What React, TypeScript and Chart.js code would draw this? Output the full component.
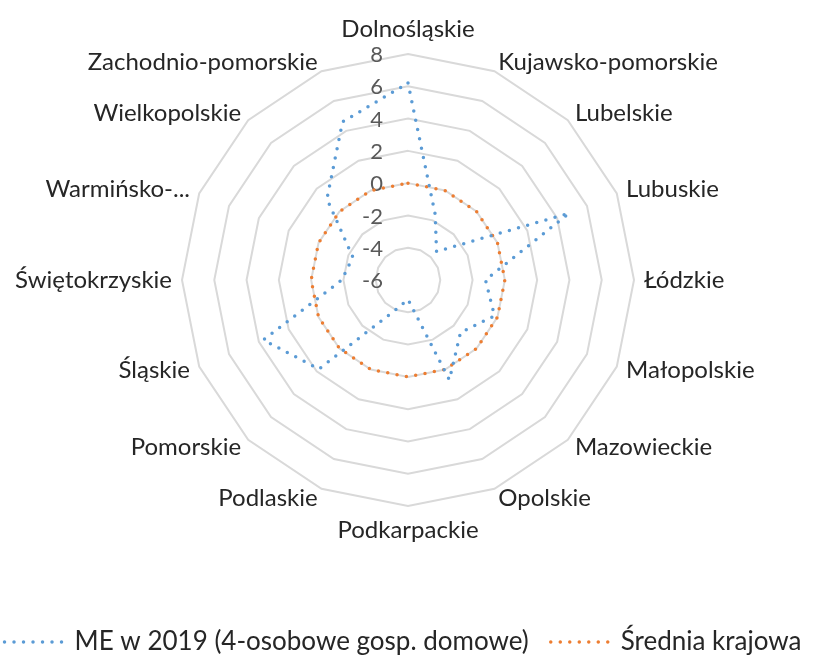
import React, { useEffect, useRef } from "react";
import { Chart, registerables } from "chart.js";

Chart.register(...registerables);

const categories: string[] = [
  "Dolnośląskie",
  "Kujawsko-pomorskie",
  "Lubelskie",
  "Lubuskie",
  "Łódzkie",
  "Małopolskie",
  "Mazowieckie",
  "Opolskie",
  "Podkarpackie",
  "Podlaskie",
  "Pomorskie",
  "Śląskie",
  "Świętokrzyskie",
  "Warmińsko-...",
  "Wielkopolskie",
  "Zachodnio-pomorskie",
];

const meValues: number[] = [6.2, -1.6, -3.5, 4.8, -1.2, -0.2, -1.4, 0.7, -4.8, -4.0, 1.8, 3.7, -1.9, -2.3, 1.1, 4.6];
const avgValues: number[] = [0, 0, 0, 0, 0, 0, 0, 0, 0, 0, 0, 0, 0, 0, 0, 0];

const seriesNames: string[] = ["ME w 2019 (4-osobowe gosp. domowe)", "Średnia krajowa"];

const axisMin = -6;
const axisMax = 8;
const axisStep = 2;

const FONT = "Lato";
const LABEL_SIZE = 24;
const LABEL_PAD = 10;

// value-axis tick labels, placed left of the vertical axis (as in Excel)
const tickLabelPlugin = {
  id: "tickLabelsLeft",
  beforeDatasetsDraw(chart: any) {
    const scale = chart.scales.r;
    const ctx = chart.ctx;
    ctx.save();
    ctx.font = `22px ${FONT}`;
    ctx.fillStyle = "#595959";
    ctx.textAlign = "right";
    ctx.textBaseline = "middle";
    scale.ticks.forEach((t: any) => {
      const d = scale.getDistanceFromCenterForValue(t.value);
      ctx.fillText(String(t.value), scale.xCenter - 25, scale.yCenter - d + 1);
    });
    ctx.restore();
  },
};

// category labels positioned from the radial scale geometry (Excel-like alignment)
const pointLabelPlugin = {
  id: "pointLabelsExcel",
  afterDraw(chart: any) {
    const scale = chart.scales.r;
    const ctx = chart.ctx;
    const labels: string[] = chart.data.labels;
    ctx.save();
    ctx.font = `${LABEL_SIZE}px ${FONT}`;
    ctx.fillStyle = "#262626";
    const lh = LABEL_SIZE * 1.2;
    labels.forEach((lab, i) => {
      const ang = scale.getIndexAngle(i);
      const deg = Math.round((ang * 180) / Math.PI) % 360;
      const p = scale.getPointPosition(i, scale.drawingArea + LABEL_PAD);
      let align: CanvasTextAlign = "center";
      if (deg !== 0 && deg !== 180) align = deg < 180 ? "left" : "right";
      let y = p.y;
      if (deg === 0) y = p.y - lh / 2;
      else if (deg === 180) y = p.y + lh / 2;
      ctx.textAlign = align;
      ctx.textBaseline = "middle";
      ctx.fillText(lab, p.x, y);
    });
    ctx.restore();
  },
};

export default function App() {
  const ref = useRef<HTMLCanvasElement | null>(null);
  useEffect(() => {
    if (!ref.current) return;
    const chart = new Chart(ref.current, {
      type: "radar",
      data: {
        labels: categories,
        datasets: [
          {
            label: seriesNames[0],
            data: meValues,
            borderColor: "#5B9BD5",
            backgroundColor: "rgba(0,0,0,0)",
            borderWidth: 3.5,
            borderDash: [0, 9.5],
            borderCapStyle: "round",
            pointRadius: 0,
            fill: false,
          },
          {
            label: seriesNames[1],
            data: avgValues,
            borderColor: "#ED7D31",
            backgroundColor: "rgba(0,0,0,0)",
            borderWidth: 3.5,
            borderDash: [0, 9.5],
            borderCapStyle: "round",
            pointRadius: 0,
            fill: false,
          },
        ],
      },
      options: {
        animation: false,
        responsive: false,
        maintainAspectRatio: false,
        layout: { padding: { top: 54, bottom: -8, left: -20, right: -9 } },
        plugins: {
          tooltip: { enabled: false },
          legend: {
            position: "bottom",
            title: { display: true, text: " ", font: { size: 1 }, padding: { top: 99.8, bottom: 0 } },
            labels: {
              font: { family: FONT, size: 26 },
              color: "#262626",
              boxWidth: 57,
              boxHeight: 0.001,
              padding: 22,
            },
          },
        },
        scales: {
          r: {
            min: axisMin,
            max: axisMax,
            ticks: { stepSize: axisStep, display: false },
            grid: { color: "#d9d9d9", lineWidth: 2 },
            angleLines: { display: false },
            pointLabels: { display: false },
          },
        },
      },
      plugins: [tickLabelPlugin, pointLabelPlugin],
    });
    return () => chart.destroy();
  }, []);
  return (
    <div style={{ position: "fixed", left: 0, top: 0, width: 817, height: 657 }}>
      <canvas ref={ref} width={817} height={657} style={{ width: 817, height: 657 }} />
    </div>
  );
}
